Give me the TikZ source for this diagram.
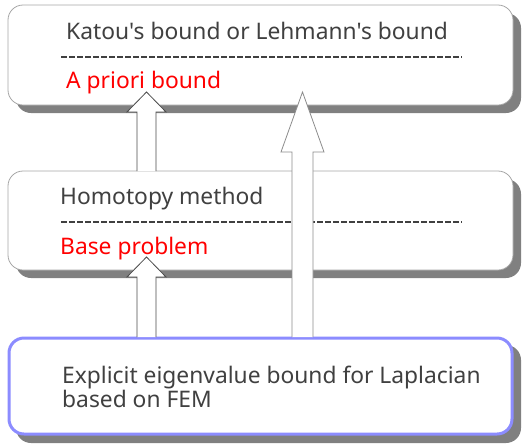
\documentclass[tikz,border=0pt]{standalone}
\usepackage{fontspec}
\setmainfont{Noto Sans}[Ligatures=TeXOff]
\begin{document}
\begin{tikzpicture}[x=1pt,y=-1pt,
  shadowbox/.style={fill=black!50, draw=none, rounded corners=15pt},
  plainbox/.style={fill=white, draw=black!35, line width=0.8pt, rounded corners=15pt},
  bluebox/.style={fill=white, draw=blue!45, line width=3pt, rounded corners=15pt},
  txt/.style={anchor=base west, inner sep=0pt, text=black!75, font=\fontsize{22.8}{24}\selectfont},
  redtxt/.style={txt, text=red},
  sepline/.style={draw=black!75, line width=1.7pt, dash pattern=on 5.5pt off 2.5pt},
  smallarrow/.style={fill=white, draw=black!70, line width=0.8pt, line join=miter},
  tallarrow/.style={fill=white, draw=black!45, line width=0.8pt, line join=miter}]
\useasboundingbox (0,0) rectangle (522,445);
% boxes with shadows
\fill[shadowbox] (16,13) rectangle (521,113);
\draw[plainbox] (8,5) rectangle (513,105);
\fill[shadowbox] (16,179) rectangle (521,278);
\draw[plainbox] (8,171) rectangle (513,270);
\fill[shadowbox] (16,345) rectangle (521,443);
\draw[bluebox] (9,338) rectangle (512,434);
% texts
\node[txt] (kat) at (66,39) {Katou's bound or Lehmann's bound};
\node[redtxt] (apr) at (66,88) {A priori bound};
\node[txt] (hom) at (60,204) {Homotopy method};
\node[redtxt] (bas) at (60,254) {Base problem};
\node[txt] (exp1) at (62,383) {Explicit eigenvalue bound for Laplacian};
\node[txt] (exp2) at (62,407) {based on FEM};
% separators
\coordinate (s1a) at (61,57); \coordinate (s1b) at (462,57);
\coordinate (s2a) at (61,222); \coordinate (s2b) at (462,222);
\draw[sepline] (s1a) -- (s1b);
\draw[sepline] (s2a) -- (s2b);
% block arrows
\coordinate (a1tip) at (146.5,92);
\coordinate (a2tip) at (146.5,257);
\coordinate (a3tip) at (302.5,92);
\draw[smallarrow] (137,171) -- (137,112) -- (127,112) -- (a1tip) -- (166,112) -- (156,112) -- (156,171);
\draw[smallarrow] (137,337) -- (137,277) -- (127,277) -- (a2tip) -- (166,277) -- (156,277) -- (156,337);
\draw[tallarrow] (292,337) -- (292,152) -- (281,152) -- (a3tip) -- (324,152) -- (313,152) -- (313,337);
\end{tikzpicture}
\end{document}
